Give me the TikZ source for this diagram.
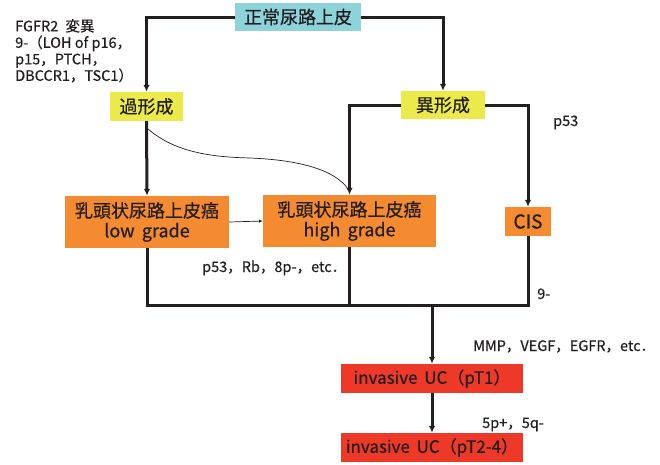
\documentclass[tikz,border=0pt]{standalone}
\usepackage{fontspec}
\setmainfont{Noto Sans CJK JP}[FakeBold=0.6]
\usetikzlibrary{arrows.meta}
\definecolor{cteal}{RGB}{140,211,218}
\definecolor{cyellow}{RGB}{236,233,74}
\definecolor{corange}{RGB}{245,139,49}
\definecolor{cred}{RGB}{238,57,41}
\definecolor{cink}{RGB}{35,31,32}
\tikzset{
  box/.style={inner sep=0pt, text=cink, font=\fontsize{18}{20}\selectfont, align=center},
  redbox/.style={box, fill=cred, minimum width=182pt, minimum height=29pt, font=\fontsize{17}{20}\selectfont},
  mainline/.style={draw=cink, line width=3pt},
  arr/.style={-{Latex[length=7pt,width=6.5pt]}},
  thinline/.style={draw=cink, line width=0.7pt},
  lbl/.style={inner sep=0pt, text=cink, font=\fontsize{14.5}{16.5}\selectfont, anchor=base west},
}
\begin{document}
\begin{tikzpicture}[x=1pt,y=-1pt]
\useasboundingbox (0,0) rectangle (660,464);
% boxes
\node[box, fill=cteal, minimum width=126pt, minimum height=28pt] (normal) at (298,17) {正常尿路上皮};
\node[box, fill=cyellow, minimum width=73pt, minimum height=29pt] (hyper) at (146.5,106.5) {過形成};
\node[box, fill=cyellow, minimum width=84pt, minimum height=28pt] (dys) at (443,105) {異形成};
\node[box, fill=corange, minimum width=164pt, minimum height=52pt] (low) at (147,222) {乳頭状尿路上皮癌\\low\hspace{0.4em}grade};
\node[box, fill=corange, minimum width=173pt, minimum height=52pt] (high) at (349.5,221) {乳頭状尿路上皮癌\\high\hspace{0.4em}grade};
\node[box, fill=corange, minimum width=46pt, minimum height=29pt, font=\fontsize{19}{20}\selectfont] (cis) at (528,221.5) {CIS};
\node[redbox] (pt1) at (432,378.5) {invasive\hspace{0.4em}UC（pT1）};
\node[redbox] (pt24) at (432,447.5) {invasive\hspace{0.4em}UC（pT2-4）};
% connectors
\draw[mainline, arr] (normal.west) -| (hyper.north);
\draw[mainline, arr] (normal.east) -| (dys.north);
\draw[mainline, arr] (hyper.south) -- (low.north);
\draw[mainline, arr] (dys.west) -| (high.north);
\draw[mainline, arr] (dys.east) -| (cis.north);
\coordinate (j) at (432,305);
\coordinate (bl) at (low.south |- j);
\coordinate (br) at (cis.south |- j);
\coordinate (hb) at (high.south |- j);
\draw[mainline] (low.south) -- (bl) -- (br) -- (cis.south);
\draw[mainline] (high.south) -- (hb);
\draw[mainline, arr] (j) -- (pt1.north);
\draw[mainline, arr] (pt1.south) -- (pt24.north);
\draw[thinline, -{Latex[length=4pt,width=3.5pt]}] (low.east) -- (high.west);
\coordinate (c0) at (148,129);
\coordinate (c1) at (348,189);
\draw[thinline] (c0) .. controls (175,152) and (210,157) .. (250,158) .. controls (300,160) and (335,170) .. (c1);
% labels
\node[lbl, anchor=north west, align=left] (gen1) at (15,19) {FGFR2\hspace{0.5em}変異\\9-（LOH of p16，\\p15，PTCH，\\DBCCR1，TSC1）};
\node[lbl] (gen2) at (553,126) {p53};
\node[lbl] (gen3) at (202,272) {p53，Rb，8p-，etc．};
\node[lbl] (gen4) at (537,299) {9-};
\node[lbl] (gen5) at (473,351) {MMP，VEGF，EGFR，etc．};
\node[lbl] (gen6) at (482,428) {5p+，5q-};
\end{tikzpicture}
\end{document}
